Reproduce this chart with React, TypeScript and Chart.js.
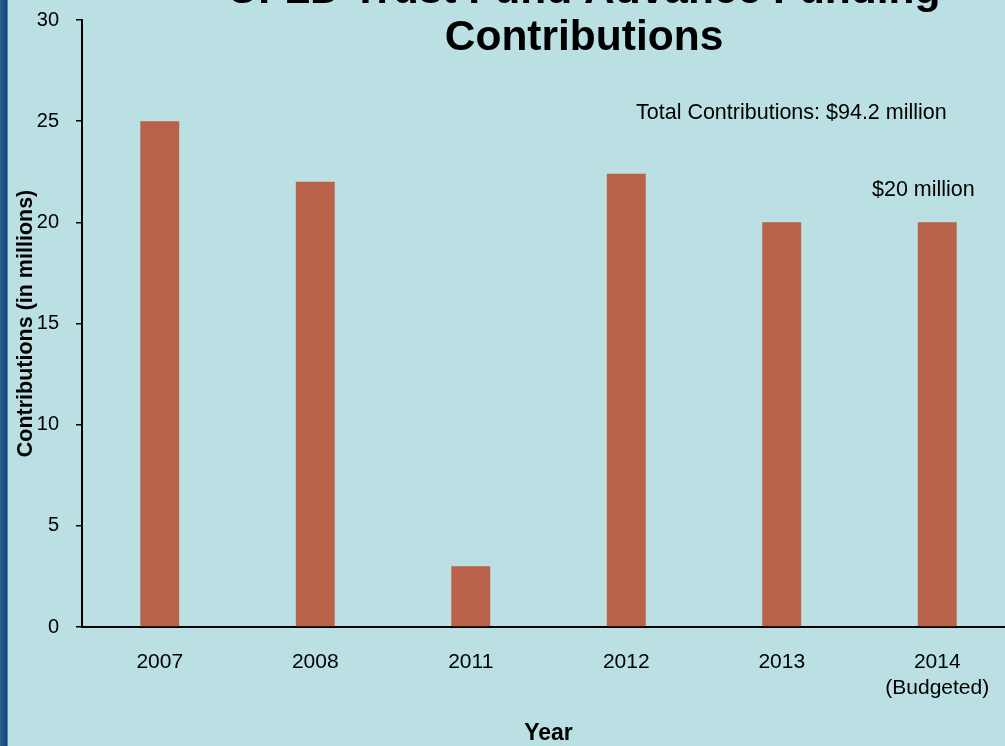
import React, { useEffect, useRef } from "react";
import { Chart, registerables } from "chart.js";

Chart.register(...registerables);

const categories: (string | string[])[] = ["2007", "2008", "2011", "2012", "2013", ["2014", "(Budgeted)"]];
const contributions: number[] = [25, 22, 3, 22.4, 20, 20];
const titleLines: string[] = ["UFLD Trust Fund Advance Funding", "Contributions"];
const totalNote = "Total Contributions: $94.2 million";
const budgetNote = "$20 million";
const yAxisTitle = "Contributions (in millions)";
const xAxisTitle = "Year";

const FONT = "'Liberation Sans', Arial, Helvetica, sans-serif";

const decorPlugin = {
  id: "decor",
  beforeDraw(chart: any) {
    const ctx = chart.ctx as CanvasRenderingContext2D;
    ctx.save();
    ctx.fillStyle = "#BAE0E3";
    ctx.fillRect(0, 0, chart.width, chart.height);
    const g = ctx.createLinearGradient(0, 0, 8, 0);
    g.addColorStop(0, "#2A6194");
    g.addColorStop(1, "#123F70");
    ctx.fillStyle = g;
    ctx.fillRect(0, 0, 7, chart.height);
    ctx.fillStyle = "#4F86B5";
    ctx.fillRect(7, 0, 1, chart.height);
    ctx.restore();
  },
  afterDraw(chart: any) {
    const ctx = chart.ctx as CanvasRenderingContext2D;
    ctx.save();
    ctx.fillStyle = "#000";
    ctx.textAlign = "center";
    ctx.textBaseline = "alphabetic";
    ctx.font = `bold 42.5px ${FONT}`;
    ctx.fillText(titleLines[0], 584, 3);
    ctx.fillText(titleLines[1], 584, 50);
    ctx.font = `21.5px ${FONT}`;
    ctx.textAlign = "left";
    ctx.textBaseline = "middle";
    ctx.fillText(totalNote, 636, 113);
    ctx.fillText(budgetNote, 872, 190);
    ctx.restore();
  },
};

export default function App() {
  const ref = useRef<HTMLCanvasElement | null>(null);
  useEffect(() => {
    if (!ref.current) return;
    const chart = new Chart(ref.current, {
      type: "bar",
      data: {
        labels: categories as any,
        datasets: [
          {
            data: contributions,
            backgroundColor: "#BA6149",
            borderWidth: 0,
            barPercentage: 0.25,
            categoryPercentage: 1,
          },
        ],
      },
      options: {
        responsive: false,
        animation: false,
        layout: { padding: { left: 0, top: 20, right: 7, bottom: 0 } },
        plugins: {
          legend: { display: false },
          tooltip: { enabled: false },
          title: { display: false },
        },
        scales: {
          x: {
            grid: { display: false, drawTicks: false, tickLength: 0 },
            border: { display: true, color: "#000", width: 2 },
            ticks: {
              color: "#000",
              font: { family: FONT, size: 21, lineHeight: 1.25 },
              padding: 22,
              maxRotation: 0,
              autoSkip: false,
            },
            title: {
              display: true,
              text: xAxisTitle,
              color: "#000",
              font: { family: FONT, size: 23, weight: "bold", lineHeight: 1.1 },
              padding: { top: 0, bottom: 0 },
            },
            afterFit: (s: any) => {
              s.height = 119;
            },
          },
          y: {
            min: 0,
            max: 30,
            grid: { drawOnChartArea: false, drawTicks: true, tickLength: 6, color: "#000", lineWidth: 1.5 },
            border: { display: true, color: "#000", width: 2 },
            ticks: {
              stepSize: 5,
              color: "#000",
              font: { family: FONT, size: 20 },
              padding: 17,
            },
            title: {
              display: true,
              text: yAxisTitle,
              color: "#000",
              font: { family: FONT, size: 21.5, weight: "bold", lineHeight: 1.2 },
              padding: { top: 13, bottom: 0 },
            },
            afterFit: (s: any) => {
              s.width = 82;
              s.paddingTop = 0;
              s.paddingBottom = 0;
            },
          },
        },
      },
      plugins: [decorPlugin],
    });
    return () => chart.destroy();
  }, []);
  return (
    <div
      style={{
        position: "fixed",
        left: 0,
        top: 0,
        width: 1005,
        height: 746,
        overflow: "hidden",
        background: "#BAE0E3",
      }}
    >
      <canvas ref={ref} width={1022} height={746} style={{ display: "block", width: 1022, height: 746 }} />
    </div>
  );
}
